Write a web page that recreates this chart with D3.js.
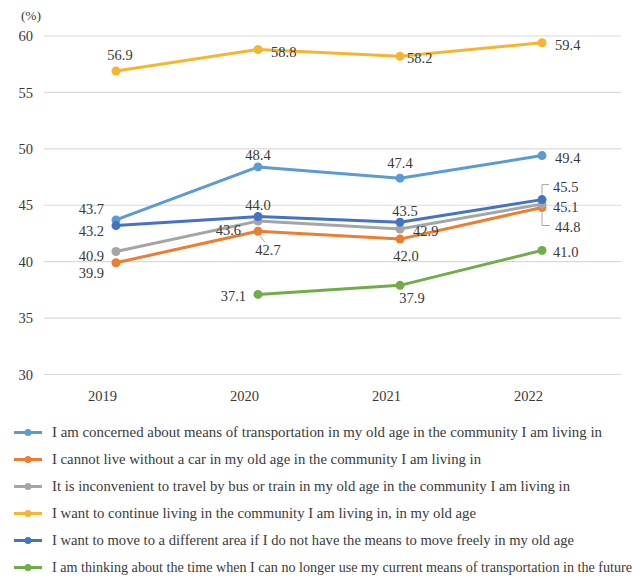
<!DOCTYPE html>
<html>
<head>
<meta charset="utf-8">
<script src="https://cdn.jsdelivr.net/npm/d3@7"></script>
<style>
  html, body { margin: 0; padding: 0; background: #fff; }
  svg { display: block; font-family: "Liberation Serif", "DejaVu Serif", serif; }
</style>
</head>
<body>
<svg id="chart" width="642" height="579"></svg>
<script>
// Survey years
const years = ["2019", "2020", "2021", "2022"];

// Share of respondents (%) for each statement
const concernedTransport = [43.7, 48.4, 47.4, 49.4];
const cannotLiveWithoutCar = [39.9, 42.7, 42.0, 44.8];
const inconvenientBusTrain = [40.9, 43.6, 42.9, 45.1];
const continueLiving = [56.9, 58.8, 58.2, 59.4];
const moveIfNoMeans = [43.2, 44.0, 43.5, 45.5];
const thinkingFuture = [null, 37.1, 37.9, 41.0];

const seriesNames = [
  "I am concerned about means of transportation in my old age in the community I am living in",
  "I cannot live without a car in my old age in the community I am living in",
  "It is inconvenient to travel by bus or train in my old age in the community I am living in",
  "I want to continue living in the community I am living in, in my old age",
  "I want to move to a different area if I do not have the means to move freely in my old age",
  "I am thinking about the time when I can no longer use my current means of transportation in the future"
];

const yTicks = [30, 35, 40, 45, 50, 55, 60];

const colors = ["#5B9BD5", "#ED7D31", "#A5A5A5", "#F6B431", "#4472C4", "#70AD47"];

// Value label placement per series / year: [dx, dy, anchor]
const labelPlacement = [
  [[-12, -11, "end"], [0, -12, "middle"], [0, -15, "middle"], [13, 2, "start"]],
  [[-12, 10, "end"], [10, 19, "middle"], [6, 17, "middle"], [13, 19, "start"]],
  [[-12, 4, "end"], [-17, 9, "end"], [13, 2, "start"], [11, 3, "start"]],
  [[4, -16, "middle"], [13, 2, "start"], [7, 2, "start"], [13, 2, "start"]],
  [[-12, 5, "end"], [0, -12, "middle"], [5, -11, "middle"], [11, -13, "start"]],
  [null, [-12, 2, "end"], [12, 13, "middle"], [11, 2, "start"]]
];

// Rendered width of each legend entry's text (px)
const legendTextWidths = [550, 429, 518, 424, 522, 580];

const data = [concernedTransport, cannotLiveWithoutCar, inconvenientBusTrain,
              continueLiving, moveIfNoMeans, thinkingFuture];

const svg = d3.select("#chart");
const textColor = "#3a3a3a";
const serif = "'Liberation Serif', serif";

const x = d3.scalePoint().domain(years).range([116, 542]);
const y = d3.scaleLinear().domain([30, 60]).range([374.5, 36]);

// Horizontal gridlines
svg.append("g")
  .selectAll("line")
  .data(yTicks)
  .join("line")
  .attr("x1", 44).attr("x2", 621)
  .attr("y1", d => y(d)).attr("y2", d => y(d))
  .attr("stroke", "#D9D9D9")
  .attr("stroke-width", 1.2);

// Y axis (labels only)
const yAxis = d3.axisLeft(y).tickValues(yTicks).tickSize(0).tickPadding(0);
svg.append("g")
  .attr("transform", "translate(33,0)")
  .call(yAxis)
  .attr("font-family", serif)
  .call(g => g.select(".domain").remove())
  .call(g => g.selectAll("text")
    .attr("fill", textColor)
    .style("font-size", "14.5px"));

svg.append("text")
  .attr("x", 31).attr("y", 20)
  .attr("text-anchor", "middle")
  .attr("fill", textColor)
  .style("font-size", "13.5px")
  .text("(%)");

// X axis (labels only)
const xAxis = d3.axisBottom(x).tickSize(0).tickPadding(0);
svg.append("g")
  .attr("transform", "translate(-14,391)")
  .call(xAxis)
  .attr("font-family", serif)
  .call(g => g.select(".domain").remove())
  .call(g => g.selectAll("text")
    .attr("fill", textColor)
    .style("font-size", "14.5px"));

// Lines and markers
const line = d3.line()
  .defined(d => d.v != null)
  .x(d => x(d.year))
  .y(d => y(d.v));

data.forEach((vals, i) => {
  const pts = years.map((yr, j) => ({ year: yr, v: vals[j], j }));
  const g = svg.append("g");
  g.append("path")
    .datum(pts)
    .attr("d", line)
    .attr("fill", "none")
    .attr("stroke", colors[i])
    .attr("stroke-width", 3)
    .attr("stroke-linejoin", "round")
    .attr("stroke-linecap", "round");
  g.selectAll("circle")
    .data(pts.filter(d => d.v != null))
    .join("circle")
    .attr("cx", d => x(d.year))
    .attr("cy", d => y(d.v))
    .attr("r", 4.5)
    .attr("fill", colors[i]);
});

// Leader lines for crowded labels
const leaderG = svg.append("g").attr("stroke", "#A6A6A6").attr("stroke-width", 1).attr("fill", "none");
const x22 = x("2022");
leaderG.append("path")
  .attr("d", `M${x22},${y(moveIfNoMeans[3]) - 5} V${y(moveIfNoMeans[3]) - 15} H${x22 + 7}`);
leaderG.append("path")
  .attr("d", `M${x22},${y(cannotLiveWithoutCar[3]) + 5} V${y(cannotLiveWithoutCar[3]) + 18} H${x22 + 8}`);
leaderG.append("path")
  .attr("d", `M${x("2020") + 2},${y(cannotLiveWithoutCar[1]) + 5} L${x("2020") + 7},${y(cannotLiveWithoutCar[1]) + 11}`);

// Value labels
data.forEach((vals, i) => {
  vals.forEach((v, j) => {
    if (v == null) return;
    const p = labelPlacement[i][j];
    svg.append("text")
      .attr("x", x(years[j]) + p[0])
      .attr("y", y(v) + p[1])
      .attr("dy", "0.35em")
      .attr("text-anchor", p[2])
      .attr("fill", textColor)
      .style("font-size", "14.5px")
      .text(v.toFixed(1));
  });
});

// Legend
const legend = svg.append("g");
seriesNames.forEach((name, i) => {
  const ly = 432.5 + i * 27;
  const row = legend.append("g").attr("transform", `translate(0,${ly})`);
  row.append("line")
    .attr("x1", 14).attr("x2", 42)
    .attr("y1", 0).attr("y2", 0)
    .attr("stroke", colors[i]).attr("stroke-width", 3);
  row.append("circle")
    .attr("cx", 28).attr("cy", 0).attr("r", 3.5)
    .attr("fill", colors[i]);
  row.append("text")
    .attr("x", 52).attr("y", 0).attr("dy", "0.35em")
    .attr("fill", textColor)
    .style("font-size", "14px")
    .attr("textLength", legendTextWidths[i])
    .attr("lengthAdjust", "spacingAndGlyphs")
    .text(name);
});
</script>
</body>
</html>
